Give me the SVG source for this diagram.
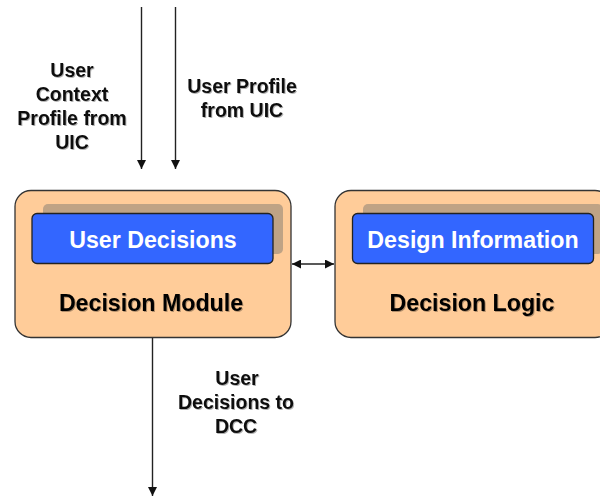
<svg xmlns="http://www.w3.org/2000/svg" width="600" height="497" viewBox="0 0 600 497">
  <defs>
    <marker id="head" viewBox="0 0 10 10" refX="10" refY="5" markerWidth="9" markerHeight="9" markerUnits="userSpaceOnUse" orient="auto-start-reverse">
      <path d="M0,0 L10,5 L0,10 Z" fill="#111"/>
    </marker>
    <filter id="soft" x="-10%" y="-20%" width="120%" height="150%">
      <feDropShadow dx="1" dy="1" stdDeviation="0.6" flood-color="#000" flood-opacity="0.3"/>
    </filter>
  </defs>
  <style>
    .module { fill: #FFCC99; stroke: #333; stroke-width: 1.3; }
    .shade { fill: #BFA385; }
    .panel { fill: #3366FF; stroke: #222; stroke-width: 1.3; }
    .title { font-family: "Liberation Sans", Arial, sans-serif; font-weight: bold; font-size: 23.2px; text-anchor: middle; }
    .panel-text { fill: #FFFFFF; }
    .module-text { fill: #000; filter: url(#soft); }
    .label { font-family: "Liberation Sans", Arial, sans-serif; font-weight: bold; font-size: 19.5px; text-anchor: middle; fill: #111; filter: url(#soft); }
    .wire { stroke: #222; stroke-width: 1.4; fill: none; }
  </style>

  <rect width="600" height="497" fill="#FFFFFF"/>

  <g id="connectors">
    <line class="wire" x1="141.5" y1="7" x2="141.5" y2="169" marker-end="url(#head)"/>
    <line class="wire" x1="175.5" y1="7" x2="175.5" y2="169" marker-end="url(#head)"/>
    <line class="wire" x1="152.5" y1="338" x2="152.5" y2="496" marker-end="url(#head)"/>
    <line class="wire" x1="292" y1="264" x2="334" y2="264" marker-start="url(#head)" marker-end="url(#head)"/>
    <text class="label" x="72" y="77">User</text>
    <text class="label" x="72" y="101">Context</text>
    <text class="label" x="72" y="125">Profile from</text>
    <text class="label" x="72" y="149">UIC</text>
    <text class="label" x="242" y="93">User Profile</text>
    <text class="label" x="242" y="117">from UIC</text>
    <text class="label" x="237" y="385">User</text>
    <text class="label" x="236" y="409">Decisions to</text>
    <text class="label" x="236" y="433">DCC</text>
  </g>

  <g id="decision-module">
    <rect class="module" x="15" y="190.5" width="276" height="147" rx="16" ry="16"/>
    <rect class="shade" x="43" y="204" width="240" height="50" rx="5" ry="5"/>
    <rect class="panel" x="32" y="213.5" width="241" height="50" rx="5" ry="5"/>
    <text class="title panel-text" x="153" y="248">User Decisions</text>
    <text class="title module-text" x="151" y="311">Decision Module</text>
  </g>

  <g id="decision-logic">
    <rect class="module" x="335" y="190.5" width="276" height="147" rx="16" ry="16"/>
    <rect class="shade" x="363" y="204" width="240" height="50" rx="5" ry="5"/>
    <rect class="panel" x="352.5" y="213.5" width="241" height="50" rx="5" ry="5"/>
    <text class="title panel-text" x="473" y="248">Design Information</text>
    <text class="title module-text" x="472" y="311">Decision Logic</text>
  </g>
</svg>
